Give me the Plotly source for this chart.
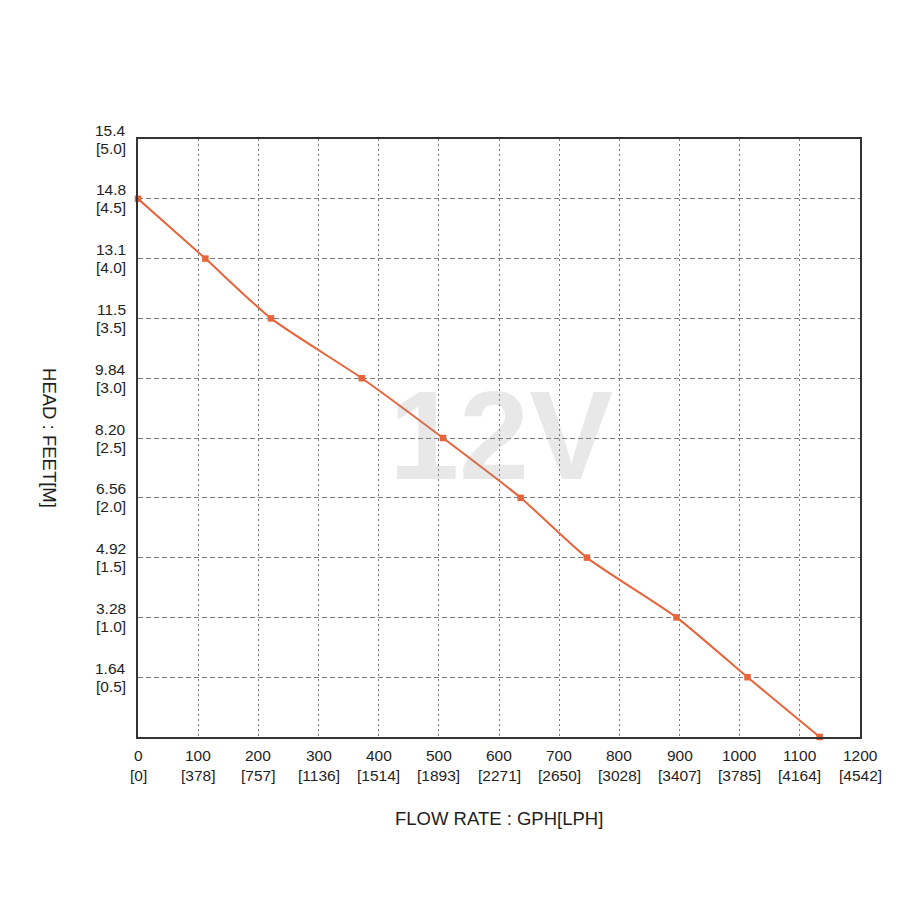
import plotly.graph_objects as go

# Data (flow in GPH, head in metres)
flow_gph = [0, 112, 221, 372, 507, 636, 746, 895, 1013, 1133]
head_m = [4.5, 4.0, 3.5, 3.0, 2.5, 2.0, 1.5, 1.0, 0.5, 0.0]

x_ticks = [0, 100, 200, 300, 400, 500, 600, 700, 800, 900, 1000, 1100, 1200]
x_lph = ["0", "378", "757", "1136", "1514", "1893", "2271", "2650", "3028", "3407", "3785", "4164", "4542"]
y_ticks = [0.5, 1.0, 1.5, 2.0, 2.5, 3.0, 3.5, 4.0, 4.5, 5.0]
y_feet = ["1.64", "3.28", "4.92", "6.56", "8.20", "9.84", "11.5", "13.1", "14.8", "15.4"]
y_m = ["0.5", "1.0", "1.5", "2.0", "2.5", "3.0", "3.5", "4.0", "4.5", "5.0"]

font_family = "Liberation Sans, Arial, sans-serif"
text_color = "#1e1e1e"
line_color = "#E8643A"
tick_font = dict(family=font_family, size=15.5, color=text_color)

fig = go.Figure()
fig.add_trace(go.Scatter(
    x=flow_gph, y=head_m, mode="lines+markers",
    line=dict(color=line_color, width=2, shape="spline", smoothing=0.6),
    marker=dict(color=line_color, size=6.5, symbol="square"),
    cliponaxis=False, showlegend=False,
))

axis_common = dict(
    showgrid=True, gridcolor="#7c7c7c", gridwidth=1.4,
    showline=True, linecolor="#333333", linewidth=2, mirror=True,
    ticks="", zeroline=False, showticklabels=False,
)

fig.update_xaxes(range=[0, 1200], tickmode="array", tickvals=x_ticks, griddash="2px,3px", **axis_common)
fig.update_yaxes(range=[0, 5.0], tickmode="array", tickvals=y_ticks, griddash="5px,3px", **axis_common)

# x tick labels (two lines: GPH and [LPH])
for xv, lph in zip(x_ticks, x_lph):
    fig.add_annotation(x=xv, xref="x", y=0, yref="paper", text=str(xv), showarrow=False,
                       xanchor="center", yanchor="middle", yshift=-18, font=tick_font)
    fig.add_annotation(x=xv, xref="x", y=0, yref="paper", text=f"[{lph}]", showarrow=False,
                       xanchor="center", yanchor="middle", yshift=-38, font=tick_font)

# y tick labels (two lines: feet and [m])
for yv, ft, m in zip(y_ticks, y_feet, y_m):
    fig.add_annotation(x=0, xref="paper", y=yv, yref="y", text=ft, showarrow=False,
                       xanchor="right", yanchor="middle", xshift=-10, yshift=9, font=tick_font)
    fig.add_annotation(x=0, xref="paper", y=yv, yref="y", text=f"[{m}]", showarrow=False,
                       xanchor="right", yanchor="middle", xshift=-10, yshift=-9, font=tick_font)

fig.add_annotation(
    text="12V", xref="paper", yref="paper", x=0.503, y=0.505,
    showarrow=False,
    font=dict(family="Liberation Sans", size=126, weight="bold", style="normal",
              color="rgba(140,140,140,0.2)"),
)
fig.add_annotation(
    text="FLOW RATE : GPH[LPH]", xref="paper", yref="paper", x=0.5, y=-0.137,
    xanchor="center", yanchor="middle", showarrow=False,
    font=dict(family=font_family, size=18.5, color=text_color),
)
fig.add_annotation(
    text="HEAD : FEET[M]", xref="paper", yref="paper", x=-0.122, y=0.5,
    xanchor="center", yanchor="middle", textangle=90, showarrow=False,
    font=dict(family=font_family, size=18.5, color=text_color),
)

fig.update_layout(
    width=920, height=920,
    margin=dict(l=130, r=68, t=131, b=191),
    paper_bgcolor="white", plot_bgcolor="white",
    font=dict(family=font_family),
)

fig.write_html("out.html")
